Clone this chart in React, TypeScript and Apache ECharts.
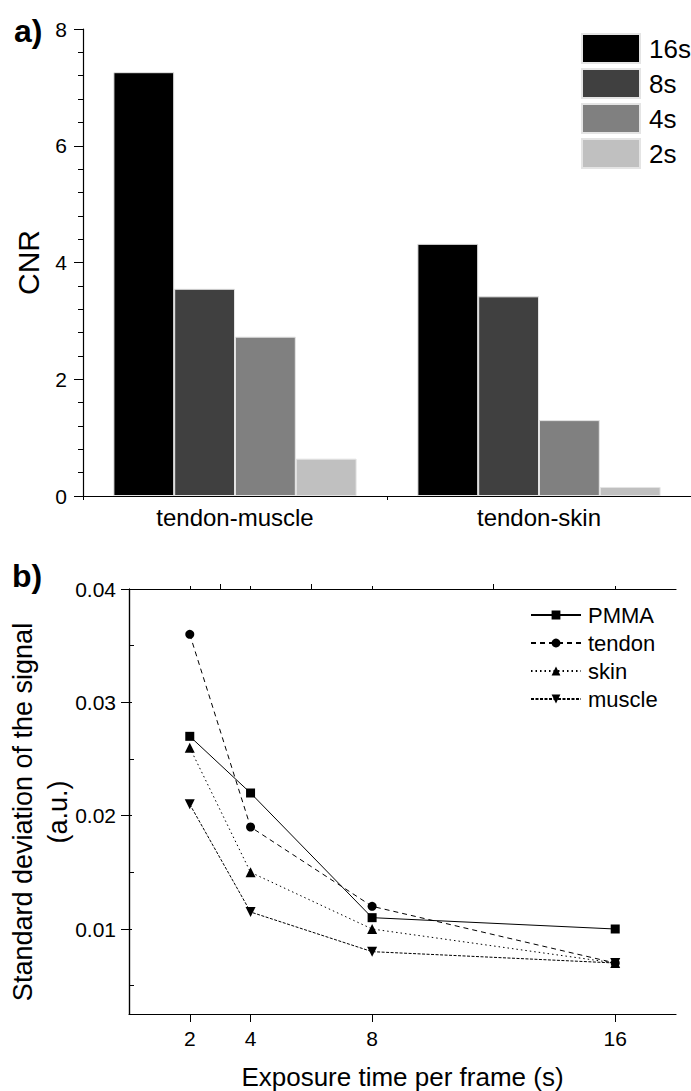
import React, { useEffect, useRef } from "react";
import * as echarts from "echarts";

const categories = ["tendon-muscle", "tendon-skin"];
const exposureNames = ["16s", "8s", "4s", "2s"];
const cnr16 = [7.26, 4.32];
const cnr8 = [3.55, 3.42];
const cnr4 = [2.73, 1.3];
const cnr2 = [0.64, 0.155];
const barColors = ["#000000", "#404040", "#808080", "#c0c0c0"];

const exposureTimes = [2, 4, 8, 16];
const pmma = [0.027, 0.022, 0.011, 0.01];
const tendon = [0.036, 0.019, 0.012, 0.007];
const skin = [0.026, 0.015, 0.01, 0.007];
const muscle = [0.021, 0.0115, 0.008, 0.007];

const xMajorTicks = [2, 4, 8, 16];
const xMinorTicks = [3, 6, 12];
const yMajorTicks = [0.01, 0.02, 0.03, 0.04];
const yMinorTicks = [0.005, 0.015, 0.025, 0.035];

const FONT = "'Liberation Sans', Arial, sans-serif";

export default function App() {
  const ref = useRef<HTMLDivElement>(null);
  useEffect(() => {
    if (!ref.current) return;
    const chart = echarts.init(ref.current, undefined, { renderer: "svg" });
    const pair = (ys: number[]) => exposureTimes.map((x, i) => [x, ys[i]]);
    const black = "#000";
    const axisLineStyle = { color: black, width: 1.2 };
    const barSets = [cnr16, cnr8, cnr4, cnr2];
    const option: any = {
      animation: false,
      backgroundColor: "#fff",
      textStyle: { fontFamily: FONT, color: black },
      grid: [
        { left: 83, top: 29, width: 608, height: 467 },
        { left: 129, top: 589, width: 547, height: 428 },
      ],
      legend: [
        {
          data: exposureNames,
          orient: "vertical",
          left: 581,
          top: 33,
          itemWidth: 58,
          itemHeight: 29,
          itemGap: 4,
          padding: 0,
          icon: "rect",
          textStyle: { fontSize: 26, color: black, fontFamily: FONT, padding: [0, 0, 0, 4] },
        },
        {
          data: ["PMMA", "tendon", "skin", "muscle"],
          orient: "vertical",
          left: 530,
          top: 604,
          itemWidth: 50,
          itemHeight: 11,
          itemGap: 6,
          padding: 0,
          textStyle: { fontSize: 22, color: black, fontFamily: FONT, padding: [0, 0, 0, 2] },
        },
      ],
      xAxis: [
        {
          type: "category",
          gridIndex: 0,
          data: categories,
          axisLine: { lineStyle: axisLineStyle },
          axisTick: { show: true, length: 4, lineStyle: { color: black } },
          axisLabel: { fontSize: 24, color: black, margin: 9, fontFamily: FONT },
          splitLine: { show: false },
        },
        {
          type: "value",
          gridIndex: 1,
          min: 0,
          max: 18,
          axisLine: { lineStyle: axisLineStyle },
          axisTick: { show: true, length: 8, customValues: xMajorTicks, lineStyle: { color: black } },
          axisLabel: { fontSize: 21, color: black, margin: 14, customValues: xMajorTicks, fontFamily: FONT },
          splitLine: { show: false },
          name: "Exposure time per frame (s)",
          nameLocation: "middle",
          nameGap: 50,
          nameTextStyle: { fontSize: 26, color: black, fontFamily: FONT },
        },
        {
          type: "value",
          gridIndex: 1,
          min: 0,
          max: 18,
          axisLine: { show: false },
          axisTick: { show: true, length: 5, customValues: xMinorTicks, lineStyle: { color: black } },
          axisLabel: { show: false },
          splitLine: { show: false },
        },
        {
          type: "value",
          gridIndex: 1,
          position: "top",
          min: 0,
          max: 18,
          axisLine: { lineStyle: axisLineStyle },
          axisTick: { show: true, length: 3, customValues: [2, 3, 4, 6, 8, 12, 16], lineStyle: { color: black } },
          axisLabel: { show: false },
          splitLine: { show: false },
        },
      ],
      yAxis: [
        {
          type: "value",
          gridIndex: 0,
          min: 0,
          max: 8,
          interval: 2,
          axisLine: { show: true, lineStyle: axisLineStyle },
          axisTick: { show: true, length: 9, lineStyle: { color: black } },
          minorTick: { show: true, splitNumber: 5, length: 5, lineStyle: { color: black } },
          axisLabel: { fontSize: 21, color: black, margin: 16, fontFamily: FONT },
          splitLine: { show: false },
          name: "CNR",
          nameLocation: "middle",
          nameGap: 40,
          nameTextStyle: { fontSize: 30, color: black, fontFamily: FONT },
        },
        {
          type: "value",
          gridIndex: 1,
          min: 0.0025,
          max: 0.04,
          axisLine: { show: true, lineStyle: axisLineStyle },
          axisTick: { show: true, length: 8, customValues: yMajorTicks, lineStyle: { color: black } },
          axisLabel: {
            fontSize: 21,
            color: black,
            margin: 13,
            customValues: yMajorTicks,
            fontFamily: FONT,
            formatter: (v: number) => v.toFixed(2),
          },
          splitLine: { show: false },
        },
        {
          type: "value",
          gridIndex: 1,
          min: 0.0025,
          max: 0.04,
          axisLine: { show: false },
          axisTick: { show: true, length: 5, customValues: yMinorTicks, lineStyle: { color: black } },
          axisLabel: { show: false },
          splitLine: { show: false },
        },
        {
          type: "value",
          gridIndex: 1,
          position: "right",
          min: 0.0025,
          max: 0.04,
          axisLine: { show: true, lineStyle: axisLineStyle },
          axisTick: {
            show: true,
            length: 3,
            customValues: [...yMinorTicks, ...yMajorTicks],
            lineStyle: { color: black },
          },
          axisLabel: { show: false },
          splitLine: { show: false },
        },
      ],
      series: [
        ...exposureNames.map((name, i) => ({
          name,
          type: "bar",
          xAxisIndex: 0,
          yAxisIndex: 0,
          data: barSets[i],
          barGap: "0%",
          barCategoryGap: "20%",
          itemStyle: { color: barColors[i], borderColor: "#e4e4e4", borderWidth: 1 },
        })),
        {
          name: "PMMA",
          type: "line",
          xAxisIndex: 1,
          yAxisIndex: 1,
          data: pair(pmma),
          symbol: "rect",
          symbolSize: 9,
          itemStyle: { color: black },
          lineStyle: { color: black, width: 1, type: "solid" },
        },
        {
          name: "tendon",
          type: "line",
          xAxisIndex: 1,
          yAxisIndex: 1,
          data: pair(tendon),
          symbol: "circle",
          symbolSize: 9,
          itemStyle: { color: black },
          lineStyle: { color: black, width: 1, type: [5, 4] },
        },
        {
          name: "skin",
          type: "line",
          xAxisIndex: 1,
          yAxisIndex: 1,
          data: pair(skin),
          symbol: "triangle",
          symbolSize: 10,
          itemStyle: { color: black },
          lineStyle: { color: black, width: 1, type: [1.5, 3] },
        },
        {
          name: "muscle",
          type: "line",
          xAxisIndex: 1,
          yAxisIndex: 1,
          data: pair(muscle),
          symbol: "path://M0,0 L10,0 L5,9 Z",
          symbolSize: 10,
          itemStyle: { color: black },
          lineStyle: { color: black, width: 1, type: [3, 1.5] },
        },
      ],
      graphic: [
        {
          type: "text",
          left: 14,
          top: 15,
          style: { text: "a)", font: `bold 32px ${FONT}`, fill: black },
        },
        {
          type: "text",
          left: 12,
          top: 560,
          style: { text: "b)", font: `bold 32px ${FONT}`, fill: black },
        },
        {
          type: "text",
          x: 40,
          y: 812,
          rotation: Math.PI / 2,
          style: {
            text: "Standard deviation of the signal\n(a.u.)",
            font: `27px ${FONT}`,
            lineHeight: 35,
            fill: black,
            align: "center",
            verticalAlign: "middle",
          },
        },
      ],
    };
    chart.setOption(option);
    return () => chart.dispose();
  }, []);
  return (
    <div
      ref={ref}
      style={{ position: "absolute", left: 0, top: 0, width: 691, height: 1091, background: "#fff" }}
    />
  );
}
